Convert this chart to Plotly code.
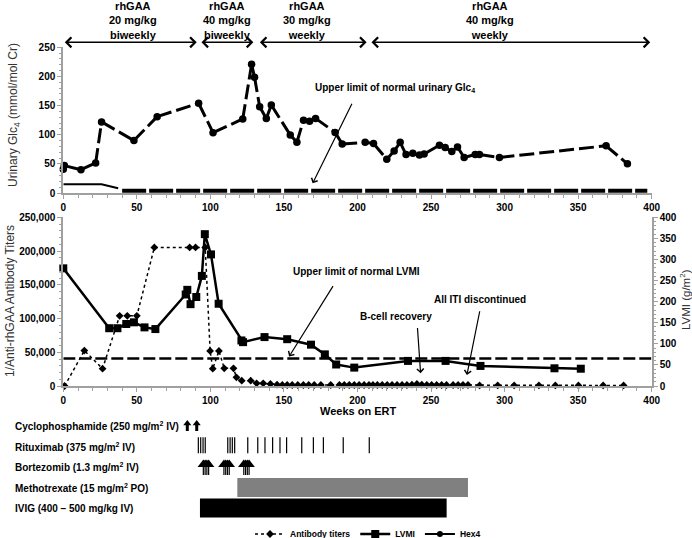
import plotly.graph_objects as go

FONT = "Liberation Sans"
W, H = 692, 538

# ---------------- data ----------------
week_range = [0, 400]

# Hex4 (urinary Glc4, mmol/mol Cr) - top panel
hex4_weeks = [0, 0.7, 12, 22, 26, 48, 63.8, 92, 101.8, 122, 128, 130, 133.5, 138, 141.4,
              154.3, 158.8, 163.3, 167.4, 171.5, 184.8, 189.6, 205.2, 210.9, 219.9, 224.9,
              229, 233, 237.6, 242.1, 245.3, 255.7, 259.6, 264.1, 268, 272.5, 280, 282.9,
              296.5, 369, 383.5]
hex4_vals = [40.6, 47, 40, 51.5, 122, 90, 131, 154, 103.5, 127, 221, 198.5, 148, 128, 151,
             99.5, 87, 125, 123, 128, 104, 84, 87, 85, 58, 72,
             87, 66, 68, 65, 67, 82, 78, 71, 79, 61, 66, 66,
             61, 81, 50]

# upper limit of normal urinary Glc4
glc_uln_weeks = [0, 26, 37.3]
glc_uln_vals = [15, 15, 8]
glc_uln2_weeks = [40, 397]
glc_uln2_vals = [4, 4]

# LVMI (g/m2) - bottom panel, right axis
lvmi_weeks = [0, 31.2, 36.8, 42.8, 48, 55.2, 62.6, 83.2, 84.3, 86.5, 90.4, 94.2, 96.2,
              100.4, 105.6, 121.1, 122.2, 136.8, 152.2, 168.4, 177.8, 185.5, 197.8, 234.3,
              259.9, 283.6, 333.9, 351.8]
lvmi_vals = [279, 137, 137, 147, 151, 139, 135, 217, 228, 194, 211, 261, 360,
             312, 195, 108, 104, 116, 111, 98, 75, 51, 43.6, 59.5,
             59.5, 47.6, 42, 41]
lvmi_uln = 65

# 1/Anti-rhGAA antibody titers - bottom panel, left axis
ab_weeks = [0.9, 14.3, 26.7, 38.3, 43.5, 50, 61.9, 85.9, 89.9, 96.5, 99.8, 101.6, 105.8,
            109.4, 115.7, 117.7, 121.3, 127.4, 131.4, 135.9, 140.8, 145.3, 148.9, 152.2,
            155.6, 159.4, 163.2, 166.8, 170.6, 175.1, 181.8, 187.7, 191, 194.4, 197.8,
            201.1, 204.5, 207.8, 210.5, 213.5, 216.8, 220.2, 223.5, 226.9, 230.3, 233.6,
            237, 240.4, 243.7, 247.1, 250.4, 253.8, 257.2, 260.5, 265, 268.4, 271.7, 275.1,
            283, 295.3, 306.5, 323.3, 334.5, 350.2, 367, 380.9]
ab_vals = [0, 52500, 25700, 104000, 104000, 104000, 205400, 205400, 205400, 205400, 52000,
           25700, 52000, 26200, 26200, 12900, 7900, 7900, 4000, 4000, 3000, 2000, 1500, 1500,
           1500, 1500, 1500, 1500, 1500, 1500, 1500, 1500, 1500, 1500, 1500,
           1500, 1500, 1500, 1500, 1500, 1500, 1500, 1500, 1500, 1500, 1500,
           2000, 3000, 2000, 1500, 1500, 1500, 1500, 1500, 1500, 1500, 1500, 1500,
           800, 800, 800, 800, 800, 800, 800, 800]

# rhGAA dosing periods
dose_labels = ["rhGAA<br>20 mg/kg<br>biweekly", "rhGAA<br>40 mg/kg<br>biweekly",
               "rhGAA<br>30 mg/kg<br>weekly", "rhGAA<br>40 mg/kg<br>weekly"]
dose_starts = [0, 92.9, 132.6, 208.5]
dose_ends = [90.7, 129.2, 206.2, 399]
dose_label_weeks = [47.6, 111, 165.5, 290]

# immune tolerance induction
treat_labels = ["Cyclophosphamide (250 mg/m<sup>2</sup> IV)",
                "Rituximab (375 mg/m<sup>2</sup> IV)",
                "Bortezomib (1.3 mg/m<sup>2</sup> IV)",
                "Methotrexate (15 mg/m<sup>2</sup> PO)",
                "IVIG (400 \u2013 500 mg/kg IV)"]
treat_rows = [0, 1, 2, 3, 4]
cyclo_weeks = [84.3, 90.7]
ritux_weeks = [91.8, 93.4, 95.0, 96.5, 111.8, 113.4, 114.9, 116.5, 125.4, 132.2, 137.1,
               142.3, 147.3, 151.8, 162.1, 170.0, 176.8, 190.3, 208.0]
bort_weeks = [95.2, 96.4, 97.6, 98.8, 109.2, 110.4, 111.6, 112.8, 122.7, 123.9, 125.1, 126.3]
mtx_span = [118.3, 275.1]
ivig_span = [92.9, 260.6]

# annotation texts (week, value)
glc_note = ("Upper limit of normal urinary Glc<sub>4</sub>", 225.5, 180)
glc_arrow = (169.5, 16.6, 196.7, 155.6)
lvmi_note = ("Upper limit of normal LVMI", 199, 170000)
lvmi_arrow = (153.5, 43600, 184, 150300)
bcell_note = ("B-cell recovery", 226, 103000)
bcell_arrow = (242.9, 18900, 240.7, 88200)
iti_note = ("All ITI discontinued", 283.5, 128000)
iti_arrow = (274.4, 16400, 283.3, 113000)

# ---------------- layout helpers ----------------
def py(p):
    return 1 - p / H

X_DOM = [63.3 / W, 651.7 / W]
Y_TOP = [py(193), py(47.3)]
Y_BOT = [py(386), py(217.3)]
Y_TRT = [py(518.25), py(415.75)]

AX_GRAY = "#A0A0A0"
tickfont = dict(family=FONT, size=10, color="black", weight="bold")


def axis(**kw):
    d = dict(showline=True, linecolor=AX_GRAY, linewidth=2, ticks="outside",
             tickcolor=AX_GRAY, ticklen=4, tickwidth=1, tickfont=tickfont,
             showgrid=False, zeroline=False, automargin=False)
    d.update(kw)
    return d


fig = go.Figure()

# ---- top panel ----
fig.add_trace(go.Scatter(x=glc_uln_weeks, y=glc_uln_vals, mode="lines",
                         line=dict(color="black", width=2), xaxis="x", yaxis="y",
                         showlegend=False, hoverinfo="skip"))
fig.add_trace(go.Scatter(x=glc_uln2_weeks, y=glc_uln2_vals, mode="lines",
                         line=dict(color="black", width=4, dash="24px,3px"),
                         xaxis="x", yaxis="y", showlegend=False, hoverinfo="skip"))

seg_x, seg_y = [], []
for i in range(len(hex4_weeks) - 1):
    seg_x += [hex4_weeks[i], hex4_weeks[i + 1], None]
    seg_y += [hex4_vals[i], hex4_vals[i + 1], None]
fig.add_trace(go.Scatter(x=seg_x, y=seg_y, mode="lines",
                         line=dict(color="black", width=3, dash="15px,5px"),
                         xaxis="x", yaxis="y", showlegend=False, hoverinfo="skip",
                         connectgaps=False))
fig.add_trace(go.Scatter(x=hex4_weeks, y=hex4_vals, mode="markers",
                         marker=dict(symbol="circle", size=7.5, color="black"),
                         xaxis="x", yaxis="y", showlegend=False, cliponaxis=False))

# ---- bottom panel ----
fig.add_trace(go.Scatter(x=week_range, y=[lvmi_uln, lvmi_uln], mode="lines",
                         line=dict(color="black", width=2.5, dash="12px,4px"),
                         xaxis="x2", yaxis="y3", showlegend=False, hoverinfo="skip"))
fig.add_trace(go.Scatter(x=ab_weeks, y=ab_vals, mode="lines+markers", name="Antibody titers",
                         line=dict(color="black", width=1.5, dash="dot"),
                         marker=dict(symbol="diamond", size=6, color="black"),
                         xaxis="x2", yaxis="y2", legendrank=1, cliponaxis=False))
fig.add_trace(go.Scatter(x=lvmi_weeks, y=lvmi_vals, mode="lines+markers", name="LVMI",
                         line=dict(color="black", width=2.5),
                         marker=dict(symbol="square", size=8, color="black"),
                         xaxis="x2", yaxis="y3", legendrank=2, cliponaxis=False))
# legend entry for Hex4 (solid line + circle, as in the key)
fig.add_trace(go.Scatter(x=[None], y=[None], mode="lines+markers", name="Hex4",
                         line=dict(color="black", width=2),
                         marker=dict(symbol="circle", size=6, color="black"),
                         xaxis="x", yaxis="y", legendrank=3))

# ---- treatment rows ----
cx, cy = [], []
for w in cyclo_weeks:
    cx += [w, w, None]
    cy += [treat_rows[0] + 0.24, treat_rows[0] - 0.1, None]
fig.add_trace(go.Scatter(x=cx, y=cy, mode="lines", line=dict(color="black", width=3),
                         xaxis="x3", yaxis="y4", showlegend=False, hoverinfo="skip"))
fig.add_trace(go.Scatter(x=cyclo_weeks, y=[treat_rows[0] - 0.12] * len(cyclo_weeks),
                         mode="markers", marker=dict(symbol="triangle-up", size=7, color="black"),
                         xaxis="x3", yaxis="y4", showlegend=False, hoverinfo="skip"))

rx, ry = [], []
for w in ritux_weeks:
    rx += [w, w, None]
    ry += [treat_rows[1] - 0.45, treat_rows[1] + 0.33, None]
fig.add_trace(go.Scatter(x=rx, y=ry, mode="lines", line=dict(color="black", width=1.2),
                         xaxis="x3", yaxis="y4", showlegend=False, hoverinfo="skip"))

bx, by = [], []
for w in bort_weeks:
    bx += [w, w, None]
    by += [treat_rows[2] + 0.39, treat_rows[2] - 0.1, None]
fig.add_trace(go.Scatter(x=bx, y=by, mode="lines", line=dict(color="black", width=1.2),
                         xaxis="x3", yaxis="y4", showlegend=False, hoverinfo="skip"))
fig.add_trace(go.Scatter(x=bort_weeks, y=[treat_rows[2] - 0.12] * len(bort_weeks),
                         mode="markers", marker=dict(symbol="triangle-up", size=10, color="black"),
                         xaxis="x3", yaxis="y4", showlegend=False, hoverinfo="skip"))

fig.add_trace(go.Bar(y=[treat_rows[3]], x=[mtx_span[1] - mtx_span[0]], base=[mtx_span[0]],
                     orientation="h", width=0.93, marker=dict(color="#808080", line_width=0),
                     xaxis="x3", yaxis="y4", showlegend=False, hoverinfo="skip"))
fig.add_trace(go.Bar(y=[treat_rows[4]], x=[ivig_span[1] - ivig_span[0]], base=[ivig_span[0]],
                     orientation="h", width=0.93, marker=dict(color="black", line_width=0),
                     xaxis="x3", yaxis="y4", showlegend=False, hoverinfo="skip"))

# ---------------- annotations ----------------
ann = []
bold = lambda s: dict(family=FONT, size=s, color="black", weight="bold")

for lab, xw in zip(dose_labels, dose_label_weeks):
    ann.append(dict(text=lab, x=xw, xref="x", y=py(20), yref="paper", showarrow=False,
                    font=bold(11), xanchor="center", yanchor="middle", align="center"))
for s, e in zip(dose_starts, dose_ends):
    ann.append(dict(text="", x=e, xref="x", y=py(42.3), yref="paper",
                    ax=s, axref="x", ay=0, ayref="pixel", showarrow=True,
                    arrowside="end+start", arrowhead=4, startarrowhead=4,
                    arrowsize=1.3, startarrowsize=1.3, arrowwidth=1.5, arrowcolor="black"))

# notes with arrows
for (txt, xw, yv), (hx, hy, tx, ty), xr, yr in [
        (glc_note, glc_arrow, "x", "y"),
        (lvmi_note, lvmi_arrow, "x2", "y2"),
        (bcell_note, bcell_arrow, "x2", "y2"),
        (iti_note, iti_arrow, "x2", "y2")]:
    ann.append(dict(text=txt, x=xw, y=yv, xref=xr, yref=yr, showarrow=False,
                    font=bold(10), xanchor="center", yanchor="middle"))
    ann.append(dict(text="", x=hx, y=hy, xref=xr, yref=yr, ax=tx, ay=ty,
                    axref=xr, ayref=yr, showarrow=True, arrowhead=4, arrowsize=1.1,
                    arrowwidth=1.2, arrowcolor="black"))

# treatment labels
for lab, r in zip(treat_labels, treat_rows):
    ann.append(dict(text=lab, x=13 / W, xref="paper", y=r, yref="y4", showarrow=False,
                    font=bold(10), xanchor="left", yanchor="middle"))

# axis titles
title_font = dict(family=FONT, size=12, color="#333333")
ann.append(dict(text="Urinary Glc<sub>4</sub> (mmol/mol Cr)", x=14 / W, y=py(115),
                xref="paper", yref="paper", textangle=-90, showarrow=False,
                font=title_font, xanchor="center", yanchor="middle"))
ann.append(dict(text="1/Anti-rhGAA Antibody Titers", x=10 / W, y=py(301),
                xref="paper", yref="paper", textangle=-90, showarrow=False,
                font=title_font, xanchor="center", yanchor="middle"))
ann.append(dict(text="LVMI (g/m<sup>2</sup>)", x=685 / W, y=py(300),
                xref="paper", yref="paper", textangle=-90, showarrow=False,
                font=dict(family=FONT, size=11.5, color="#333333"),
                xanchor="center", yanchor="middle"))
ann.append(dict(text="Weeks on ERT", x=(X_DOM[0] + X_DOM[1]) / 2, y=py(411),
                xref="paper", yref="paper", showarrow=False,
                font=bold(11), xanchor="center", yanchor="middle"))

minor_x = dict(ticks="outside", ticklen=2.5, tickcolor=AX_GRAY, dtick=10, showgrid=False)

fig.update_layout(
    width=W, height=H, margin=dict(l=0, r=0, t=0, b=0, autoexpand=False),
    paper_bgcolor="white", plot_bgcolor="white",
    font=dict(family=FONT, color="black"),
    barmode="overlay",
    xaxis=axis(domain=X_DOM, range=week_range, dtick=50, anchor="y", minor=minor_x),
    yaxis=axis(domain=Y_TOP, range=[0, 250], dtick=50, anchor="x",
               minor=dict(ticks="outside", ticklen=2.5, tickcolor=AX_GRAY, dtick=10)),
    xaxis2=axis(domain=X_DOM, range=week_range, dtick=50, anchor="y2", minor=minor_x),
    yaxis2=axis(domain=Y_BOT, range=[0, 250000], dtick=50000, tickformat=",d", anchor="x2",
                minor=dict(ticks="outside", ticklen=2.5, tickcolor=AX_GRAY, dtick=10000)),
    yaxis3=axis(domain=Y_BOT, range=[0, 400], dtick=50, overlaying="y2", side="right",
                anchor="x2", minor=dict(ticks="outside", ticklen=2.5, tickcolor=AX_GRAY, dtick=10)),
    xaxis3=dict(domain=X_DOM, range=week_range, visible=False, anchor="y4", automargin=False),
    yaxis4=dict(domain=Y_TRT, range=[4.5, -0.5], visible=False, anchor="x3", automargin=False),
    legend=dict(orientation="h", x=250 / W, y=py(534), xanchor="left", yanchor="middle",
                font=dict(family=FONT, size=8.5, color="black", weight="bold"),
                bgcolor="rgba(0,0,0,0)", traceorder="normal"),
    annotations=ann,
)

# remove the default page margin so the 692x538 figure fills the window exactly
fig.write_html("out.html", config={"displayModeBar": False}, post_script=(
    "document.documentElement.style.margin='0';document.body.style.margin='0';"
    "document.body.style.padding='0';document.body.style.overflow='hidden';"))
